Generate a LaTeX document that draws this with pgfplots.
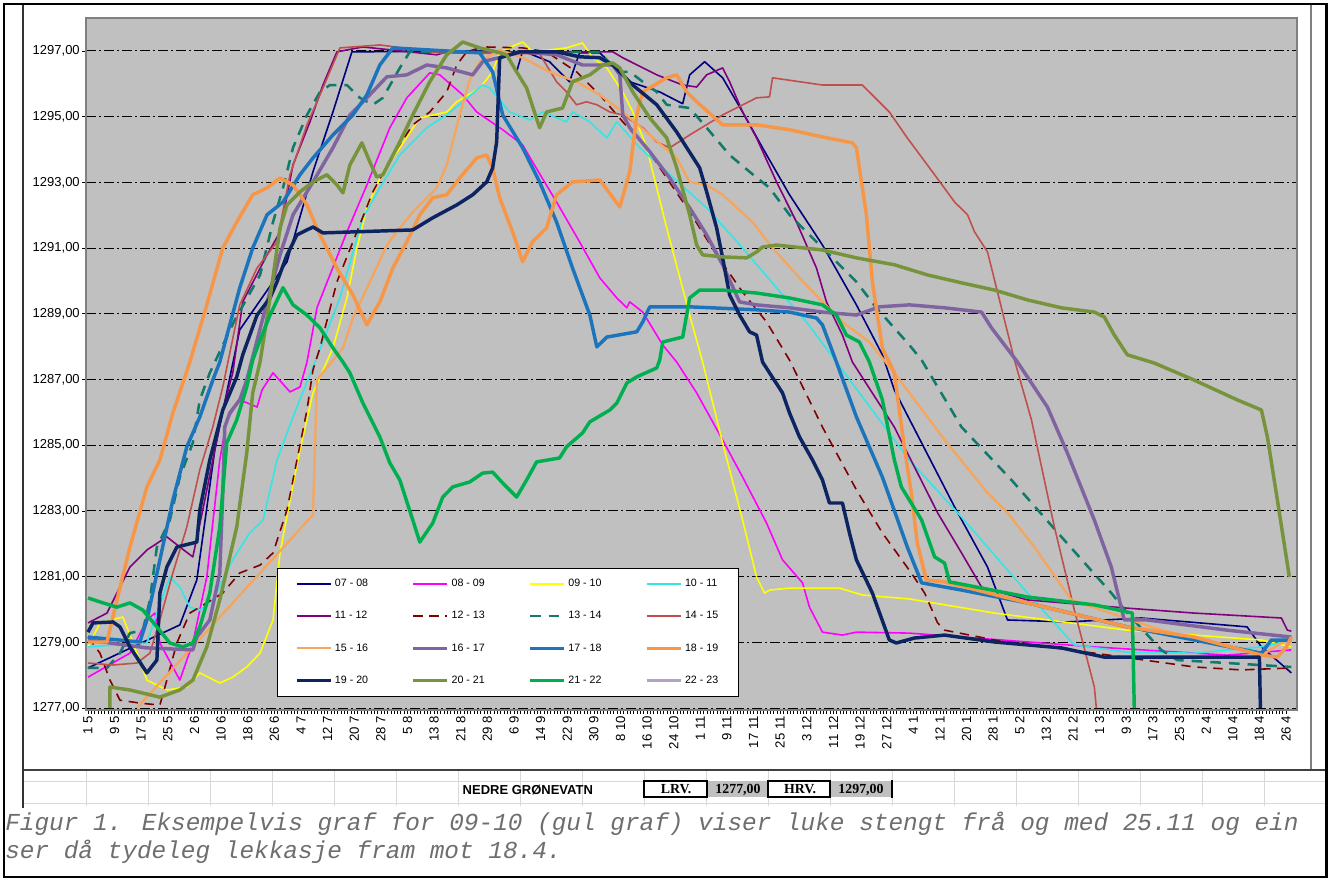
\documentclass[border=0pt]{standalone}
\usepackage{pgfplots}
\pgfplotsset{compat=1.18}
\usepackage{fontspec}
\setmainfont{Liberation Sans}
\newfontfamily\serifb{Liberation Serif}
\newfontfamily\capfont{Liberation Mono}
\definecolor{c0708}{HTML}{000080}
\definecolor{c0809}{HTML}{FF00FF}
\definecolor{c0910}{HTML}{FFFF00}
\definecolor{c1011}{HTML}{33E6E6}
\definecolor{c1112}{HTML}{800080}
\definecolor{c1213}{HTML}{800000}
\definecolor{c1314}{HTML}{127A6A}
\definecolor{c1415}{HTML}{C0504D}
\definecolor{c1516}{HTML}{F5A55C}
\definecolor{c1617}{HTML}{8064A2}
\definecolor{c1718}{HTML}{1C75BC}
\definecolor{c1819}{HTML}{F79646}
\definecolor{c1920}{HTML}{0C2461}
\definecolor{c2021}{HTML}{77933C}
\definecolor{c2122}{HTML}{00B050}
\definecolor{c2223}{HTML}{B3A2C7}
\definecolor{plotgray}{HTML}{C0C0C0}
\definecolor{framegray}{HTML}{808080}
\definecolor{cellgray}{HTML}{C0C0C0}
\definecolor{gridlight}{HTML}{D9D9D9}
\definecolor{captiongray}{HTML}{6E6E6E}
\begin{document}
\begin{tikzpicture}[x=0.75pt,y=-0.75pt]
% page
\fill[white] (0,0) rectangle (1330,881);
% spreadsheet grid
\foreach \gx in {86,148,...,1326} {\draw[gridlight, line width=0.75pt] (\gx,770) -- (\gx,806);}
\draw[gridlight, line width=0.75pt] (23,781) -- (1326,781);
\draw[gridlight, line width=0.75pt] (23,803) -- (1326,803);
% chart area
\draw[framegray, line width=1pt] (1311,5) -- (1311,769);
\draw[black!75, line width=1.5pt] (23,769.5) -- (1327,769.5);
\draw[black!80, line width=2.2pt] (23,5) -- (23,808);
% cells below chart
\node[font=\fontsize{9.75pt}{11pt}\selectfont\bfseries, anchor=west] at (458,790) {NEDRE GRØNEVATN};
\fill[cellgray] (707,781) rectangle (768,797);
\fill[cellgray] (830,781) rectangle (892,797);
\draw[black, line width=1.1pt] (644,781) rectangle (707,797);
\draw[black, line width=1.1pt] (768,781) rectangle (830,797);
\draw[black, line width=1.6pt] (892,780) -- (892,798);
\node[font=\serifb\fontsize{10.4pt}{12pt}\selectfont\bfseries] at (676,789.5) {LRV.};
\node[font=\serifb\fontsize{10.4pt}{12pt}\selectfont\bfseries] at (738,789.5) {1277,00};
\node[font=\serifb\fontsize{10.4pt}{12pt}\selectfont\bfseries] at (800,789.5) {HRV.};
\node[font=\serifb\fontsize{10.4pt}{12pt}\selectfont\bfseries] at (861,789.5) {1297,00};
% caption
\node[font=\capfont\itshape\fontsize{18.3pt}{21pt}\selectfont, text=captiongray, anchor=base west, inner sep=0pt] at (5,830) {Figur 1. Eksempelvis graf for 09-10 (gul graf) viser luke stengt frå og med 25.11 og ein};
\node[font=\capfont\itshape\fontsize{18.3pt}{21pt}\selectfont, text=captiongray, anchor=base west, inner sep=0pt] at (5,858) {ser då tydeleg lekkasje fram mot 18.4.};
% outer frame
\draw[black, line width=2pt] (4,4) rectangle (1326.5,877);

\begin{axis}[
  at={(64.5pt,-532.5pt)}, anchor=south west,
  scale only axis, width=908.25pt, height=519pt,
  xmin=-0.6, xmax=363.3, ymin=1276.94, ymax=1298.0,
  axis background/.style={fill=plotgray},
  axis line style={draw=framegray, line width=1.2pt},
  xtick={0,8,...,360},
  xticklabels={1~5,9~5,17~5,25~5,2~6,10~6,18~6,26~6,4~7,12~7,20~7,28~7,5~8,13~8,21~8,29~8,6~9,14~9,22~9,30~9,8~10,16~10,24~10,1~11,9~11,17~11,25~11,3~12,11~12,19~12,27~12,4~1,12~1,20~1,28~1,5~2,13~2,21~2,1~3,9~3,17~3,25~3,2~4,10~4,18~4,26~4},
  minor x tick num=7,
  ytick={1277,1279,...,1297},
  xtick pos=bottom, ytick pos=left,
  tick align=outside,
  major tick length=3pt, minor tick length=3pt,
  every tick/.style={black, line width=0.5pt},
  ymajorgrids,
  grid style={black, line width=0.6pt, dash pattern=on 7.5pt off 2.25pt on 1.5pt off 2.25pt},
  scaled y ticks=false,
  x tick label style={rotate=90, anchor=east, font=\fontsize{9.9pt}{11pt}\selectfont, inner sep=1.5pt},
  y tick label style={font=\fontsize{9.75pt}{11pt}\selectfont, inner sep=1.5pt,
    /pgf/number format/fixed, /pgf/number format/fixed zerofill, /pgf/number format/precision=2,
    /pgf/number format/use comma, /pgf/number format/1000 sep={}, /pgf/number format/assume math mode=true},
  legend columns=4,
  legend cell align=left,
  legend style={at={(0.1577,0.2059)}, anchor=north west, draw=black, line width=0.8pt, fill=white,
    font=\fontsize{8pt}{9.5pt}\selectfont, inner xsep=13pt, inner ysep=6.5pt, row sep=13pt,
    /tikz/every even column/.append style={column sep=30.5pt}},
  legend image code/.code={\draw[#1] (0pt,0pt) -- (25.5pt,0pt);},
  every axis plot/.append style={line join=round},
]
% 07-08
\addplot[c0708, line width=1.2pt] coordinates {(0,1278.22)(27.6,1279.53)(32.7,1280.90)(38.1,1284.85)(45.6,1288.51)(59.8,1290.58)(67.6,1293.32)(73.6,1295.14)(79.3,1296.97)(125.2,1297)(128.8,1296.36)(130.6,1297)(138.7,1296.67)(144.7,1296.06)(147.7,1296.94)(153.8,1296.94)(162.8,1296.06)(171.8,1295.75)(178.7,1295.39)(180.8,1296.27)(185.3,1296.67)(190.7,1296.18)(196.7,1295.14)(202.7,1294.05)(210.8,1292.62)(220.7,1291.09)(230.9,1289.27)(238.7,1287.75)(242.3,1286.68)(260.4,1283.12)(270.3,1281.29)(276.3,1279.68)(294.3,1279.62)(316.5,1279.74)(348.3,1279.47)(352.6,1278.86)(361.6,1278.07)};
\addlegendentry{07 - 08}
% 08-09
\addplot[c0809, line width=1.2pt] coordinates {(0,1277.94)(12.6,1278.67)(17.7,1279.68)(20.1,1279.89)(21.6,1278.98)(27.6,1277.85)(31.5,1278.98)(35.7,1280.99)(39.6,1284.55)(41.7,1285.77)(45.6,1286.38)(50.8,1286.16)(52.3,1286.68)(55.6,1287.20)(60.7,1286.62)(63.7,1286.77)(65.8,1287.53)(68.8,1289.18)(77.8,1291.49)(83.8,1292.92)(90.7,1294.66)(95.8,1295.57)(102.7,1296.33)(105.7,1296.27)(112.6,1295.66)(116.8,1295.14)(124.6,1294.60)(130.6,1294.14)(133.6,1293.62)(140.8,1292.40)(147.7,1291.19)(153.8,1290.09)(158.9,1289.48)(161.9,1289.18)(162.8,1289.36)(166.7,1289.05)(172.7,1288.05)(176.9,1287.53)(182.9,1286.59)(190.7,1285.16)(196.7,1284.03)(203.9,1282.63)(208.7,1281.51)(214.7,1280.81)(216.8,1280.07)(220.7,1279.31)(226.7,1279.22)(230.9,1279.31)(246.8,1279.28)(302.4,1278.86)(342.3,1278.61)(361.6,1278.77)};
\addlegendentry{08 - 09}
% 09-10
\addplot[c0910, line width=1.2pt] coordinates {(0,1278.86)(3.6,1279.59)(10.5,1279.77)(14.7,1278.67)(17.7,1277.85)(23.7,1277.55)(29.7,1277.64)(33.6,1278.07)(39.6,1277.76)(43.5,1277.94)(47.7,1278.25)(51.7,1278.67)(55.6,1279.68)(57.7,1281.72)(60.7,1283.33)(63.7,1284.85)(67.6,1286.59)(73.6,1287.96)(77.8,1289.48)(80.8,1291.00)(83.8,1292.22)(88.6,1293.32)(93.7,1294.05)(99.7,1294.96)(107.8,1295.14)(110.8,1295.45)(117.7,1295.87)(121.6,1296.36)(123.7,1296.97)(130.6,1297.27)(133.6,1296.97)(143.8,1297.09)(148.6,1297.24)(151.7,1296.79)(155.9,1296.48)(160.7,1295.75)(163.7,1295.14)(167.9,1294.05)(173.9,1291.61)(180.8,1288.96)(184.7,1287.53)(190.7,1285.07)(196.7,1282.72)(200.9,1280.99)(203.3,1280.50)(204.8,1280.59)(210.8,1280.65)(225.8,1280.65)(232.7,1280.44)(246.8,1280.32)(272.4,1279.89)(312.3,1279.37)(352.6,1279.07)(361.6,1278.86)};
\addlegendentry{09 - 10}
% 10-11
\addplot[c1011, line width=1.2pt] coordinates {(0,1278.86)(17.7,1278.98)(20.7,1279.89)(24.6,1280.99)(27.6,1280.68)(30.6,1280.07)(33.6,1279.98)(37.5,1280.29)(43.5,1281.51)(48.6,1282.33)(52.6,1282.72)(56.8,1284.55)(61.6,1285.86)(67.6,1287.38)(75.7,1289.48)(82.6,1291.92)(87.7,1292.83)(93.7,1293.83)(101.8,1294.66)(107.8,1295.05)(112.6,1295.45)(118.6,1295.96)(120.7,1295.87)(126.7,1295.14)(132.7,1294.90)(136.6,1295.14)(143.8,1294.84)(145.6,1295.14)(150.8,1294.84)(155.9,1294.35)(158.9,1294.84)(165.8,1294.05)(173.9,1293.32)(185.9,1292.22)(196.7,1291.00)(206.9,1289.79)(215.9,1288.75)(224.9,1287.53)(246.8,1284.55)(262.5,1282.81)(282.3,1280.50)(296.4,1278.92)(312.3,1278.70)(332.4,1278.67)(352.6,1278.86)(361.6,1279.07)};
\addlegendentry{10 - 11}
% 11-12
\addplot[c1112, line width=1.2pt] coordinates {(0,1279.59)(5.7,1279.89)(9.6,1280.68)(12.6,1281.29)(17.7,1281.81)(23.7,1282.21)(27.6,1281.90)(31.5,1281.60)(34.5,1283.03)(37.5,1284.55)(40.5,1286.07)(43.5,1287.20)(46.5,1289.36)(53.8,1290.79)(57.7,1291.49)(61.6,1293.53)(66.7,1294.84)(70.6,1295.96)(74.8,1296.97)(82.6,1297.12)(104.8,1296.88)(107.8,1296.97)(157.7,1296.97)(160.7,1296.79)(170.9,1296.27)(178.7,1295.96)(182.9,1295.90)(185.9,1296.27)(190.7,1296.48)(192.8,1296.06)(196.7,1295.14)(200.9,1294.35)(206.9,1293.01)(212.9,1291.79)(218.9,1290.39)(221.9,1289.36)(226.7,1288.35)(229.7,1287.53)(242.3,1285.55)(255.3,1282.94)(262.5,1281.72)(268.5,1280.68)(282.3,1280.29)(312.3,1280.04)(332.4,1279.89)(358.6,1279.74)(360.4,1279.37)(361.6,1279.34)};
\addlegendentry{11 - 12}
% 12-13
\addplot[c1213, line width=1.2pt, dash pattern=on 7pt off 5pt] coordinates {(0,1279.16)(3.6,1278.67)(6.6,1277.85)(9.6,1277.24)(15.6,1277.15)(21.6,1277.09)(23.7,1277.85)(26.7,1278.98)(30.6,1279.89)(35.7,1280.20)(40.5,1280.50)(45.6,1281.11)(51.7,1281.35)(55.6,1281.72)(59.8,1283.03)(62.8,1284.55)(65.8,1286.07)(67.6,1287.29)(69.7,1287.96)(74.8,1289.97)(80.8,1291.49)(85.6,1292.71)(91.6,1293.83)(97.6,1294.75)(102.7,1295.14)(107.8,1295.75)(110.8,1296.57)(113.8,1296.97)(118.6,1297.12)(130.6,1297.09)(137.8,1296.97)(146.8,1296.36)(153.8,1295.66)(160.7,1294.84)(167.9,1294.05)(173.9,1293.13)(180.8,1292.10)(188.9,1290.79)(196.7,1289.66)(203.9,1288.75)(210.8,1287.59)(220.7,1285.55)(230.9,1283.64)(238.7,1282.33)(247.4,1281.11)(251.4,1280.50)(255.3,1279.59)(257.4,1279.37)(272.4,1279.07)(302.4,1278.67)(332.4,1278.25)(346.5,1278.16)(361.6,1278.22)};
\addlegendentry{12 - 13}
% 13-14
\addplot[c1314, line width=1.9pt, dash pattern=on 8pt off 6pt] coordinates {(0,1278.22)(5.7,1278.22)(9.6,1278.67)(12.6,1279.28)(16.5,1279.37)(18.6,1280.29)(20.7,1281.90)(24.6,1282.72)(27.6,1284.03)(31.5,1285.07)(33.6,1286.38)(36.6,1287.20)(44.1,1288.81)(51.7,1290.18)(55.6,1291.79)(58.6,1292.83)(61.6,1294.05)(65.8,1295.05)(69.7,1295.75)(72.7,1295.96)(77.8,1295.96)(81.7,1295.57)(85.6,1295.36)(88.6,1295.57)(93.7,1296.48)(96.7,1296.97)(153.8,1296.97)(158.9,1296.36)(162.8,1296.36)(166.7,1296.06)(170.9,1295.75)(173.9,1295.36)(180.8,1295.26)(185.9,1294.66)(192.8,1293.83)(198.8,1293.32)(204.8,1292.83)(210.8,1292.01)(216.8,1291.40)(224.9,1290.58)(230.9,1289.97)(236.9,1289.18)(246.8,1288.05)(250.5,1287.59)(262.5,1285.55)(277.5,1283.94)(292.5,1282.21)(307.5,1280.50)(312.3,1279.89)(322.5,1278.77)(327.3,1278.46)(342.3,1278.37)(361.6,1278.25)};
\addlegendentry{13 - 14}
% 14-15
\addplot[c1415, line width=1.2pt] coordinates {(0,1278.37)(7.5,1278.31)(14.7,1278.37)(18.6,1278.67)(21.6,1279.68)(25.5,1281.11)(29.7,1282.51)(33.6,1284.25)(37.5,1285.55)(40.5,1286.77)(45.6,1289.27)(50.8,1290.39)(56.8,1291.19)(60.7,1293.23)(65.8,1294.75)(70.6,1295.87)(75.7,1297.09)(87.7,1297.18)(105.7,1296.94)(135.7,1296.91)(140.8,1296.06)(143.8,1295.75)(146.8,1295.36)(149.8,1295.45)(152.9,1295.36)(156.8,1295.14)(160.7,1295.05)(166.7,1294.66)(170.9,1294.23)(174.8,1294.05)(180.8,1294.44)(190.7,1295.05)(200.9,1295.57)(204.8,1295.60)(205.7,1296.18)(220.7,1295.96)(232.7,1295.96)(240.8,1295.14)(246.2,1294.35)(254.4,1293.23)(260.4,1292.40)(264.3,1292.01)(266.4,1291.49)(270.3,1290.88)(273.3,1289.66)(278.4,1287.59)(283.5,1285.77)(290.4,1282.51)(296.4,1279.98)(302.4,1277.64)(303.0,1277.00)};
\addlegendentry{14 - 15}
% 15-16
\addplot[c1516, line width=1.7pt] coordinates {(14.7,1277.00)(67.6,1282.88)(68.8,1286.98)(76.6,1287.96)(79.6,1288.87)(84.7,1289.97)(89.8,1291.09)(93.7,1291.61)(97.6,1292.10)(104.8,1292.83)(107.8,1293.53)(111.7,1295.05)(114.7,1296.12)(117.7,1296.67)(123.7,1297.03)(130.6,1296.79)(138.7,1296.36)(146.8,1296.06)(153.8,1295.66)(160.7,1295.14)(168.8,1294.44)(176.9,1293.74)(180.8,1293.01)(185.9,1292.92)(190.7,1292.62)(199.7,1291.79)(205.7,1291.00)(213.8,1290.09)(220.7,1289.36)(226.7,1288.75)(234.8,1288.14)(242.3,1287.20)(257.4,1285.16)(270.3,1283.55)(276.3,1282.94)(284.4,1281.90)(295.5,1280.29)(322.5,1279.37)(352.6,1278.61)(361.6,1279.16)};
\addlegendentry{15 - 16}
% 16-17
\addplot[c1617, line width=2.6pt] coordinates {(0,1279.07)(17.7,1278.83)(31.5,1278.77)(32.7,1279.16)(36.6,1279.68)(39.6,1281.11)(40.5,1283.55)(41.1,1285.55)(42.6,1285.98)(45.6,1286.38)(47.7,1286.98)(53.2,1289.12)(57.7,1290.79)(61.6,1292.01)(67.6,1293.01)(73.6,1294.05)(78.7,1295.05)(83.8,1295.57)(89.8,1296.21)(95.8,1296.27)(101.8,1296.57)(107.8,1296.48)(115.6,1296.27)(118.6,1296.67)(130.6,1296.97)(140.8,1296.88)(148.6,1296.57)(157.7,1296.57)(159.8,1296.27)(160.7,1295.05)(162.8,1294.66)(168.8,1293.93)(174.8,1293.13)(180.8,1292.22)(185.9,1291.40)(190.7,1290.49)(195.8,1289.36)(200.9,1289.27)(210.8,1289.18)(220.7,1289.05)(230.9,1288.96)(237.8,1289.21)(246.8,1289.27)(257.4,1289.18)(268.5,1289.05)(271.5,1288.57)(275.4,1288.05)(279.3,1287.53)(288.3,1286.16)(294.3,1284.76)(302.4,1282.72)(307.5,1281.29)(311.4,1279.68)(318.3,1279.68)(342.3,1279.37)(361.6,1279.16)};
\addlegendentry{16 - 17}
% 17-18
\addplot[c1718, line width=2.6pt] coordinates {(0,1279.16)(15.6,1279.01)(17.7,1279.68)(21.6,1281.51)(25.5,1283.33)(29.7,1284.95)(33.6,1285.86)(37.5,1286.98)(39.6,1287.53)(45.6,1289.79)(49.5,1291.00)(53.8,1292.01)(58.6,1292.40)(63.7,1293.23)(67.6,1293.74)(73.6,1294.44)(79.6,1295.05)(83.8,1295.66)(87.7,1296.57)(91.6,1297.09)(117.7,1296.94)(121.6,1296.36)(124.6,1295.05)(130.6,1294.05)(135.7,1293.01)(140.8,1291.79)(145.6,1290.39)(150.8,1288.96)(152.9,1287.99)(155.9,1288.29)(164.9,1288.45)(166.7,1288.75)(168.8,1289.21)(180.8,1289.21)(200.9,1289.12)(210.8,1289.05)(218.9,1288.87)(220.7,1288.66)(224.9,1287.53)(230.9,1285.86)(238.7,1284.03)(246.2,1281.90)(250.5,1280.81)(262.5,1280.59)(282.3,1280.20)(312.3,1279.47)(352.6,1278.67)(355.6,1279.07)(361.6,1279.07)};
\addlegendentry{17 - 18}
% 18-19
\addplot[c1819, line width=2.6pt] coordinates {(0,1279.01)(5.7,1279.01)(8.7,1280.29)(12.6,1281.90)(17.7,1283.73)(21.6,1284.55)(25.5,1285.98)(30.6,1287.53)(35.7,1289.27)(40.5,1291.00)(44.7,1291.79)(49.5,1292.62)(53.8,1292.83)(57.7,1293.13)(61.6,1292.92)(65.8,1292.31)(69.7,1291.40)(74.8,1290.39)(79.6,1289.57)(83.8,1288.66)(87.7,1289.36)(91.6,1290.39)(95.8,1291.19)(99.7,1292.01)(103.6,1292.53)(107.8,1292.62)(111.7,1293.13)(116.8,1293.74)(119.8,1293.83)(121.6,1293.44)(123.7,1292.53)(127.6,1291.49)(130.6,1290.58)(133.6,1291.19)(137.8,1291.61)(140.8,1292.62)(145.6,1293.01)(153.8,1293.07)(159.8,1292.25)(162.8,1293.32)(164.9,1295.05)(166.7,1295.75)(173.9,1296.18)(176.9,1296.27)(179.9,1295.75)(182.9,1295.45)(190.7,1294.75)(200.9,1294.75)(210.8,1294.60)(220.7,1294.38)(229.7,1294.20)(230.9,1294.05)(233.9,1292.01)(235.7,1289.97)(238.7,1287.96)(242.3,1287.20)(245.3,1284.94)(247.4,1283.55)(249.2,1282.02)(251.9,1280.90)(257.4,1280.84)(282.3,1280.20)(312.3,1279.47)(332.4,1279.16)(352.6,1278.61)(357.4,1278.55)(360.1,1278.86)(361.6,1279.16)};
\addlegendentry{18 - 19}
% 19-20
\addplot[c1920, line width=2.6pt] coordinates {(0,1279.31)(1.5,1279.59)(7.5,1279.62)(9.6,1279.47)(12.6,1278.86)(17.7,1278.07)(20.7,1278.46)(21.6,1280.50)(23.7,1281.29)(26.7,1281.90)(32.7,1282.05)(33.6,1283.03)(36.6,1284.55)(40.5,1286.07)(44.7,1287.08)(46.5,1287.75)(50.8,1288.96)(54.7,1289.48)(56.8,1289.97)(59.8,1290.79)(62.8,1291.40)(67.6,1291.64)(70.6,1291.46)(97.6,1291.55)(103.6,1291.92)(110.8,1292.31)(115.6,1292.62)(119.8,1293.01)(121.6,1293.44)(122.8,1294.23)(123.7,1296.79)(129.7,1296.97)(140.8,1296.97)(147.7,1296.82)(153.8,1296.79)(157.7,1296.57)(163.7,1295.96)(170.9,1295.36)(176.9,1294.53)(183.8,1293.44)(185.9,1292.71)(188.9,1291.61)(190.7,1290.70)(192.8,1289.57)(195.8,1288.96)(198.8,1288.45)(200.9,1288.35)(202.7,1287.53)(208.7,1286.59)(210.8,1285.98)(213.8,1285.25)(217.7,1284.55)(220.7,1283.94)(222.8,1283.24)(226.7,1283.24)(228.8,1282.33)(230.9,1281.51)(235.7,1280.50)(240.8,1279.07)(242.9,1278.98)(248.3,1279.13)(257.4,1279.22)(272.4,1279.01)(292.5,1278.83)(305.4,1278.55)(352.0,1278.55)(352.3,1277.00)};
\addlegendentry{19 - 20}
% 20-21
\addplot[c2021, line width=2.6pt] coordinates {(6.6,1277.00)(6.6,1277.64)(12.6,1277.55)(21.6,1277.33)(27.6,1277.55)(31.5,1277.85)(35.7,1278.86)(39.6,1280.29)(44.7,1282.51)(47.7,1284.76)(49.5,1286.59)(51.7,1287.53)(54.7,1289.48)(57.7,1291.61)(59.8,1292.31)(63.7,1292.71)(67.6,1293.01)(71.8,1293.23)(74.8,1292.92)(76.6,1292.68)(78.7,1293.53)(82.3,1294.20)(84.7,1293.62)(86.8,1293.16)(88.6,1293.23)(93.7,1294.23)(97.6,1295.05)(102.7,1296.06)(107.8,1296.88)(112.6,1297.27)(117.7,1297.09)(122.8,1296.97)(125.8,1296.88)(128.8,1296.36)(131.8,1295.87)(135.7,1294.66)(137.8,1295.14)(142.6,1295.26)(145.6,1296.06)(150.8,1296.27)(154.7,1296.57)(157.7,1296.63)(159.8,1296.48)(163.7,1295.75)(168.8,1294.96)(173.9,1294.35)(176.9,1293.44)(180.8,1292.01)(182.9,1291.09)(184.7,1290.79)(190.7,1290.73)(197.9,1290.70)(200.9,1290.88)(202.7,1291.03)(206.9,1291.09)(220.7,1290.94)(230.9,1290.70)(242.3,1290.49)(252.3,1290.18)(262.5,1289.94)(272.4,1289.72)(282.3,1289.42)(292.5,1289.18)(302.4,1289.05)(305.4,1288.90)(308.4,1288.35)(312.3,1287.75)(320.4,1287.50)(332.4,1286.98)(345.3,1286.38)(352.6,1286.07)(354.4,1285.25)(357.4,1283.33)(361.0,1280.99)};
\addlegendentry{20 - 21}
% 21-22
\addplot[c2122, line width=2.6pt] coordinates {(0,1280.35)(3.6,1280.23)(8.7,1280.07)(12.6,1280.20)(16.5,1279.98)(20.7,1279.47)(24.6,1278.98)(28.5,1278.86)(31.5,1278.98)(33.6,1279.47)(36.6,1280.50)(39.6,1282.51)(41.7,1285.07)(44.7,1285.77)(47.7,1286.77)(49.5,1287.59)(51.7,1288.20)(54.7,1288.96)(58.6,1289.79)(61.6,1289.27)(65.8,1288.96)(69.7,1288.57)(73.6,1287.96)(76.6,1287.53)(78.7,1287.20)(82.6,1286.28)(87.7,1285.25)(90.7,1284.46)(93.7,1283.94)(97.6,1282.72)(99.7,1282.05)(103.6,1282.63)(106.6,1283.42)(109.6,1283.73)(114.7,1283.88)(118.6,1284.15)(121.6,1284.18)(124.6,1283.85)(128.8,1283.42)(131.8,1283.94)(134.8,1284.49)(141.7,1284.61)(143.8,1284.95)(148.6,1285.37)(150.8,1285.71)(156.8,1286.07)(158.9,1286.28)(161.9,1286.89)(164.9,1287.08)(170.9,1287.35)(171.8,1287.59)(172.7,1288.14)(178.7,1288.29)(180.8,1289.48)(183.8,1289.72)(190.7,1289.72)(200.9,1289.63)(210.8,1289.48)(220.7,1289.27)(224.9,1288.96)(227.9,1288.35)(231.8,1288.14)(234.8,1287.53)(238.7,1286.38)(242.3,1284.55)(244.4,1283.73)(250.5,1282.72)(254.4,1281.60)(257.4,1281.41)(258.9,1280.84)(282.3,1280.38)(302.4,1280.14)(313.8,1279.89)(314.4,1277.00)};
\addlegendentry{21 - 22}
% 22-23 (no data drawn)
\addlegendimage{c2223, line width=2.6pt}
\addlegendentry{22 - 23}
\end{axis}
\end{tikzpicture}
\end{document}
